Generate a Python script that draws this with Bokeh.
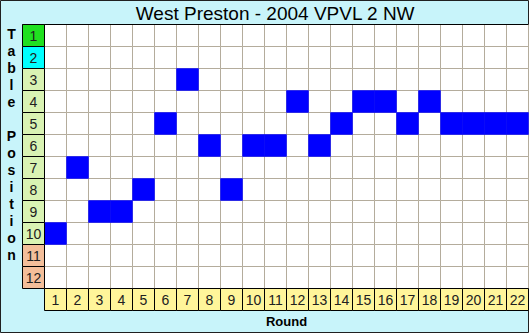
from bokeh.plotting import figure
from bokeh.models import Range1d
from bokeh.core.properties import value
from bokeh.embed import file_html
from bokeh.resources import INLINE

# ---- data ----
title = "West Preston - 2004 VPVL 2 NW"
rounds = list(range(1, 23))
positions = [10, 7, 9, 9, 8, 5, 3, 6, 8, 6, 6, 4, 6, 5, 4, 4, 5, 4, 5, 5, 5, 5]
table_rows = list(range(1, 13))
row_colors = ["#20E020", "#00FFFF"] + ["#D9F3B3"] * 8 + ["#F3BE9A"] * 2
x_label = "Round"
y_label = "Table Position"

# ---- layout (pixel geometry of the picture) ----
W, H = 529, 333
CELL = 22.0
GX0, GY0 = 44.0, 24.0   # pixel of the grid's top-left corner

def px_to_x(px):
    return 0.5 + (px - GX0) / CELL

def px_to_y(py):
    return 0.5 + (py - GY0) / CELL

n_r, n_p = len(rounds), len(table_rows)
FONT = "Liberation Sans"
BG = "#C8F4FA"

p = figure(width=W, height=H, output_backend="svg", toolbar_location=None,
           x_range=Range1d(px_to_x(0), px_to_x(W)),
           y_range=Range1d(px_to_y(H), px_to_y(0)),
           min_border=0)
p.axis.visible = False
p.grid.visible = False
p.background_fill_color = BG
p.border_fill_color = BG
p.outline_line_color = "#202020"
p.outline_line_width = 1

# grid cells
gx, gy = [], []
for r in rounds:
    for t in table_rows:
        gx.append(r)
        gy.append(t)
p.rect(x=gx, y=gy, width=1, height=1, fill_color="white",
       line_color="#B4AC9C", line_width=1)

# position marks
p.rect(x=rounds, y=positions, width=1, height=1, fill_color="#0000FF",
       line_color="#0000FF", line_width=0.5)

# top border of grid
p.segment(x0=[-0.5], y0=[0.5], x1=[n_r + 0.5], y1=[0.5], line_color="black", line_width=1)

# table row label cells
p.rect(x=[0] * n_p, y=table_rows, width=1, height=1, fill_color=row_colors,
       line_color="black", line_width=1)
p.text(x=[0] * n_p, y=table_rows, text=[str(t) for t in table_rows],
       text_font=value(FONT), text_font_size="14px", text_color="#202020",
       text_align="center", text_baseline="middle")

# round label cells
p.rect(x=rounds, y=[n_p + 1] * n_r, width=1, height=1, fill_color="#FFF59A",
       line_color="black", line_width=1)
p.text(x=rounds, y=[n_p + 1] * n_r, text=[str(r) for r in rounds],
       text_font=value(FONT), text_font_size="14px", text_color="#202020",
       text_align="center", text_baseline="middle")

# title
p.text(x=[(0 - 0.5 + n_r + 0.5) / 2], y=[px_to_y(12.5)], text=[title],
       text_font=value(FONT), text_font_size="19px", text_color="black",
       text_align="center", text_baseline="middle")

# x label
p.text(x=[(n_r + 1) / 2], y=[px_to_y(321)], text=[x_label],
       text_font=value(FONT), text_font_size="13px", text_font_style="bold",
       text_color="black", text_align="center", text_baseline="middle")

# y label, stacked letters
letters = list(y_label)
ly = [px_to_y(33 + 17 * i) for i in range(len(letters))]
p.text(x=[px_to_x(11)] * len(letters), y=ly, text=letters,
       text_font=value(FONT), text_font_size="14px", text_font_style="bold",
       text_color="black", text_align="center", text_baseline="middle")

open("out.html", "w").write(file_html(p, INLINE))
